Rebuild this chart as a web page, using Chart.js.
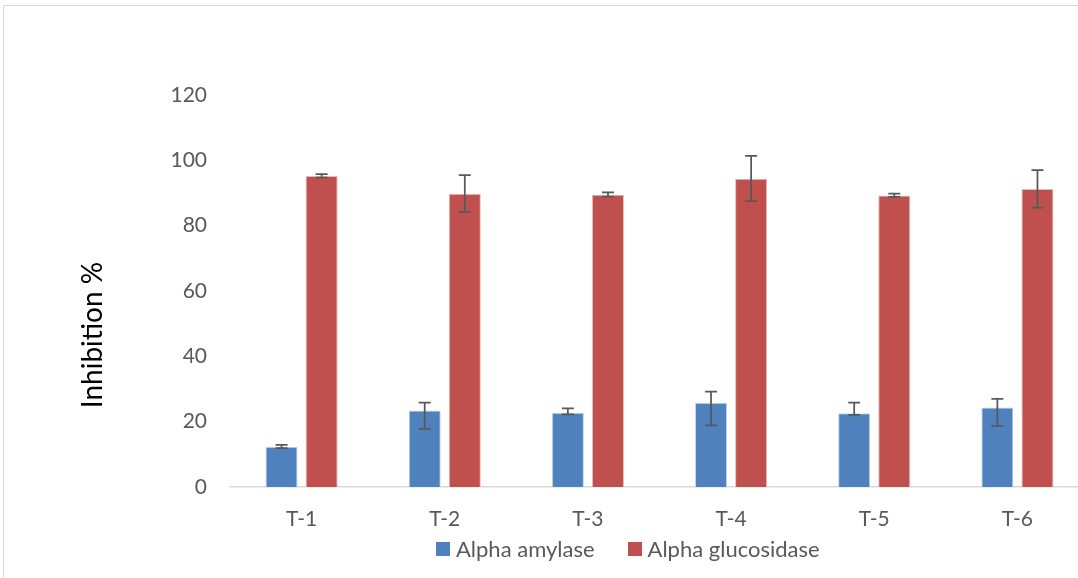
<!DOCTYPE html>
<html>
<head>
<meta charset="utf-8">
<script src="https://cdn.jsdelivr.net/npm/chart.js@4"></script>
<style>
	html, body { margin: 0; padding: 0; background: #fff; overflow: hidden; width: 1078px; height: 578px; }
	.frame { position: absolute; left: 3px; top: 5px; width: 1200px; height: 700px; border-left: 1.5px solid #d9d9d9; border-top: 1.5px solid #d9d9d9; }
	#myChart { position: absolute; left: 0; top: 0; }
	.legend { position: absolute; left: 436px; top: 535px; display: flex; align-items: center; font-family: Lato, "Open Sans", sans-serif; font-size: 22px; color: #595959; }
	.legend__box { width: 14px; height: 14px; margin-right: 6px; }
	.legend__item { display: flex; align-items: center; margin-right: 33px; }
</style>
</head>
<body>
<div class="frame"></div>
<canvas id="myChart" width="1300" height="578"></canvas>
<div class="legend">
	<div class="legend__item"><span class="legend__box" style="background:#4f81bd"></span>Alpha amylase</div>
	<div class="legend__item"><span class="legend__box" style="background:#c0504d"></span>Alpha glucosidase</div>
</div>
<script>
const categories = ["T-1", "T-2", "T-3", "T-4", "T-5", "T-6"];
const seriesNames = ["Alpha amylase", "Alpha glucosidase"];

const amylase = [12.3, 23.4, 22.7, 25.8, 22.6, 24.3];
const amylaseLow = [11.9, 17.8, 22.2, 18.9, 22.1, 18.7];
const amylaseHigh = [12.9, 25.8, 24.1, 29.2, 25.8, 27.0];

const glucosidase = [95.2, 89.8, 89.5, 94.4, 89.2, 91.2];
const glucosidaseLow = [94.7, 84.2, 88.9, 87.5, 88.8, 85.5];
const glucosidaseHigh = [95.8, 95.5, 90.2, 101.4, 89.8, 97.0];

const yTicks = [0, 20, 40, 60, 80, 100, 120];
const yTitle = "Inhibition %";

const textColor = "#595959";
const fontFamily = "Lato, 'Open Sans', sans-serif";

// error bars drawn on top of the bars, using the chart's y scale
const errorBars = {
	id: "error_bars",
	afterDatasetsDraw: (chart) => {
		const ctx = chart.ctx;
		const yScale = chart.scales.y;
		const ranges = [
			[amylaseLow, amylaseHigh],
			[glucosidaseLow, glucosidaseHigh]
		];
		ctx.save();
		ctx.strokeStyle = "#595959";
		ctx.lineWidth = 1.75;
		ranges.forEach(([low, high], i) => {
			const meta = chart.getDatasetMeta(i);
			meta.data.forEach((bar, j) => {
				const x = bar.x;
				const yLo = yScale.getPixelForValue(low[j]);
				const yHi = yScale.getPixelForValue(high[j]);
				ctx.beginPath();
				ctx.moveTo(x, yLo);
				ctx.lineTo(x, yHi);
				ctx.moveTo(x - 6, yLo);
				ctx.lineTo(x + 6, yLo);
				ctx.moveTo(x - 6, yHi);
				ctx.lineTo(x + 6, yHi);
				ctx.stroke();
			});
		});
		ctx.restore();
	}
};

// y axis title sits lower than the middle of the axis, as in the original
const axisTitle = {
	id: "axis_title",
	afterDraw: (chart) => {
		const ctx = chart.ctx;
		const area = chart.chartArea;
		ctx.save();
		ctx.translate(area.left - 137, (area.top + area.bottom) / 2 + 44);
		ctx.rotate(-Math.PI / 2);
		ctx.fillStyle = "#000";
		ctx.font = "28px " + fontFamily;
		ctx.textAlign = "center";
		ctx.textBaseline = "middle";
		ctx.fillText(yTitle, 0, 0);
		ctx.restore();
	}
};

const ctx = document.getElementById("myChart").getContext("2d");

new Chart(ctx, {
	type: "bar",
	data: {
		labels: categories,
		datasets: [
			{
				label: seriesNames[0],
				data: amylase,
				backgroundColor: "#4f81bd",
				borderColor: "#c6d6ea",
				borderWidth: 1,
				barPercentage: 0.8,
				categoryPercentage: 0.56
			},
			{
				label: seriesNames[1],
				data: glucosidase,
				backgroundColor: "#c0504d",
				borderColor: "#e6bcbb",
				borderWidth: 1,
				barPercentage: 0.8,
				categoryPercentage: 0.56
			}
		]
	},
	plugins: [errorBars, axisTitle],
	options: {
		responsive: false,
		animation: false,
		devicePixelRatio: 1,
		layout: {
			padding: { left: 0, top: 95, right: 211, bottom: 0 }
		},
		scales: {
			x: {
				grid: { display: false, drawTicks: false },
				border: { display: true, color: "#d9d9d9", width: 1.5 },
				ticks: {
					color: textColor,
					padding: 20,
					font: { family: fontFamily, size: 21 }
				},
				afterFit: (scale) => {
					scale.height = 91;
				}
			},
			y: {
				min: 0,
				max: 120,
				grid: { display: false, drawTicks: false },
				border: { display: false },
				afterBuildTicks: (scale) => {
					scale.ticks = yTicks.map((v) => ({ value: v }));
				},
				ticks: {
					color: textColor,
					padding: 23,
					font: { family: fontFamily, size: 21 }
				},
				afterFit: (scale) => {
					scale.width = 230;
				}
			}
		},
		plugins: {
			legend: { display: false },
			tooltip: { enabled: false }
		}
	}
});
</script>
</body>
</html>
